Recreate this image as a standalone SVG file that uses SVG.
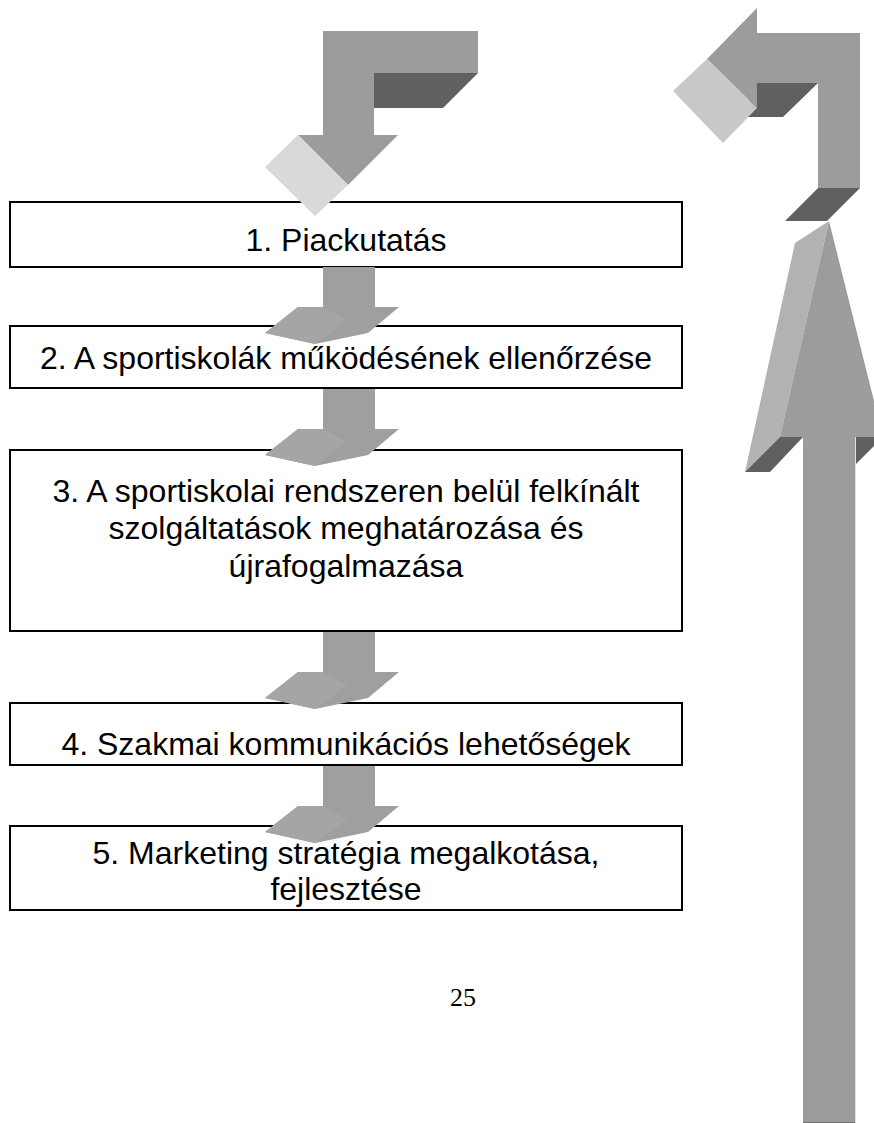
<svg xmlns="http://www.w3.org/2000/svg" width="874" height="1123" viewBox="0 0 874 1123">
<style>
.box{fill:#ffffff;stroke:#000000;stroke-width:2}
.t{font-family:"Liberation Sans",Arial,sans-serif;font-size:32px;fill:#000000;text-anchor:middle}
.pg{font-family:"Liberation Serif","Times New Roman",serif;font-size:26px;fill:#000000;text-anchor:middle}
.mid{fill:#9c9c9c}
.dark{fill:#606060}
.lt1{fill:#d9d9d9}
.lt2{fill:#c8c8c8}
.lt3{fill:#b2b2b2}
.sa{fill:#9f9f9f}
.sf{fill:#a5a5a5}
</style>
<defs>
<g id="smallArrow">
<polygon class="sa" points="323,0 375,0 375,40 399,40 368,66 315,77 265,66 298,40 323,40"/>
<polygon class="sf" points="265,66 298,40 323,40 347,53 315,77"/>
</g>
</defs>
<rect width="874" height="1123" fill="#ffffff"/>

<g id="boxes">
<g id="node1"><rect class="box" x="10" y="202" width="672" height="65"/><text class="t" x="346" y="251">1. Piackutatás</text></g>
<g id="node2"><rect class="box" x="10" y="326" width="672" height="62"/><text class="t" x="346" y="369">2. A sportiskolák működésének ellenőrzése</text></g>
<g id="node3"><rect class="box" x="10" y="450" width="672" height="181"/><text class="t" x="346" y="502">3. A sportiskolai rendszeren belül felkínált</text><text class="t" x="346" y="539">szolgáltatások meghatározása és</text><text class="t" x="346" y="577">újrafogalmazása</text></g>
<g id="node4"><rect class="box" x="10" y="703" width="672" height="62"/><text class="t" x="346" y="755">4. Szakmai kommunikációs lehetőségek</text></g>
<g id="node5"><rect class="box" x="10" y="826" width="672" height="84"/><text class="t" x="346" y="864">5. Marketing stratégia megalkotása,</text><text class="t" x="346" y="900">fejlesztése</text></g>
</g>

<g id="connectors">
<g id="arrowTopLeft">
<polygon class="dark" points="374,73 478,73 443,108 374,108"/>
<polygon class="mid" points="323,31 478,31 478,73 374,73 374,135 398,135 348,185 298,135 323,135"/>
<polygon class="lt1" points="298,135 348,185 315,216 265,167"/>
</g>
<use href="#smallArrow" y="267"/>
<use href="#smallArrow" y="389"/>
<use href="#smallArrow" y="632"/>
<use href="#smallArrow" y="766"/>
<g id="arrowRightUp">
<polygon class="lt3" points="829,221 780,437 745,472 795,243"/>
<polygon class="mid" points="829,221 883,437 780,437"/>
<polygon class="dark" points="780,437 803,437 770,472 745,472"/>
<polygon class="dark" points="855,437 883,437 848,472 821,472"/>
<rect class="mid" x="803" y="437" width="52" height="686"/>
<line x1="855.5" y1="437" x2="855.5" y2="1123" stroke="#e0e0e0" stroke-width="1"/>
<line x1="803" y1="1122.5" x2="855" y2="1122.5" stroke="#707070" stroke-width="1"/>
</g>
<g id="arrowTopRight">
<polygon class="dark" points="818,188 860,188 827,221 785,221"/>
<polygon class="dark" points="757,83 818,83 783,117 740,117"/>
<polygon class="mid" points="757,8 757,33 860,33 860,188 818,188 818,83 757,83 757,108 707,59"/>
<polygon class="lt2" points="707,59 757,108 723,143 673,91"/>
</g>
</g>

<text class="pg" x="463" y="1006">25</text>
</svg>
